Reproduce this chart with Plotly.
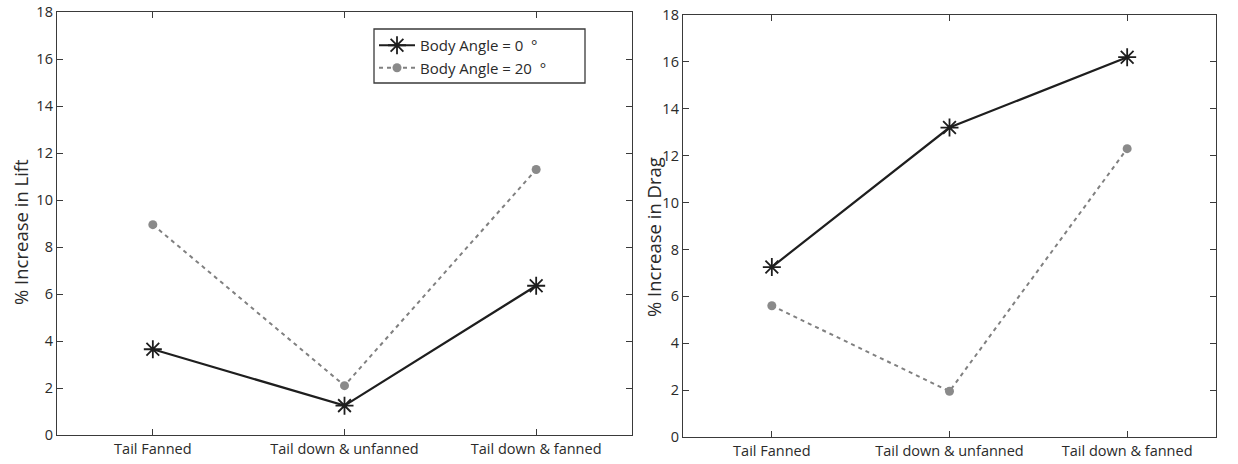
import plotly.graph_objects as go

# Data
categories = ["Tail Fanned", "Tail down & unfanned", "Tail down & fanned"]
lift_angle0 = [3.65, 1.25, 6.35]
lift_angle20 = [8.95, 2.1, 11.3]
drag_angle0 = [7.25, 13.2, 16.2]
drag_angle20 = [5.6, 1.95, 12.3]
y_ticks = [0, 2, 4, 6, 8, 10, 12, 14, 16, 18]

font_family = "Open Sans, Noto Sans, sans-serif"
dark = "#1e1e1e"
gray = "#808080"
axis_color = "#3a3a3a"
text_color = "#2a2a2a"

W, H = 1238, 464


def px_x(p):
    return p / W


def px_y(p):
    return 1 - p / H


fig = go.Figure()

x_idx = list(range(len(categories)))

star = dict(symbol="asterisk-open", size=15, line=dict(color=dark, width=1.8))
dot = dict(symbol="circle", size=9, color="#8a8a8a")

# Left panel: lift
fig.add_trace(go.Scatter(
    x=x_idx, y=lift_angle0, mode="lines+markers", name="Body Angle = 0\u00a0\u00a0°",
    line=dict(color=dark, width=2.2), marker=star, xaxis="x", yaxis="y"))
fig.add_trace(go.Scatter(
    x=x_idx, y=lift_angle20, mode="lines+markers", name="Body Angle = 20\u00a0\u00a0°",
    line=dict(color=gray, width=2, dash="4px,4px"), marker=dot, xaxis="x", yaxis="y"))

# Right panel: drag
fig.add_trace(go.Scatter(
    x=x_idx, y=drag_angle0, mode="lines+markers", showlegend=False,
    line=dict(color=dark, width=2.2), marker=star, xaxis="x2", yaxis="y2"))
fig.add_trace(go.Scatter(
    x=x_idx, y=drag_angle20, mode="lines+markers", showlegend=False,
    line=dict(color=gray, width=2, dash="4px,4px"), marker=dot, xaxis="x2", yaxis="y2"))

xaxis_style = dict(
    range=[-0.5, 2.5], tickmode="array", tickvals=x_idx, ticktext=categories,
    showline=True, linecolor=axis_color, linewidth=1.3, mirror="ticks",
    ticks="inside", ticklen=6, tickcolor=axis_color, showgrid=False, zeroline=False,
    automargin=False, ticklabeloverflow="allow",
    tickfont=dict(family=font_family, size=14.5, color=text_color),
)
yaxis_style = dict(
    range=[0, 18], tickmode="array", tickvals=y_ticks,
    showline=True, linecolor=axis_color, linewidth=1.3, mirror="ticks",
    ticks="inside", ticklen=6, tickcolor=axis_color, showgrid=False, zeroline=False,
    automargin=False, ticklabeloverflow="allow",
    tickfont=dict(family=font_family, size=14.5, color=text_color),
)

fig.update_layout(
    width=W, height=H,
    margin=dict(l=0, r=0, t=0, b=0, autoexpand=False),
    paper_bgcolor="white", plot_bgcolor="white",
    xaxis=dict(domain=[px_x(57), px_x(632)], anchor="y", **xaxis_style),
    yaxis=dict(domain=[px_y(435), px_y(12)], anchor="x", **yaxis_style),
    xaxis2=dict(domain=[px_x(683), px_x(1216)], anchor="y2", **xaxis_style),
    yaxis2=dict(domain=[px_y(437), px_y(15)], anchor="x2", **yaxis_style),
    legend=dict(
        x=px_x(374), y=px_y(29), xanchor="left", yanchor="top",
        borderwidth=0, bgcolor="rgba(0,0,0,0)", itemwidth=36,
        font=dict(family=font_family, size=15, color=text_color),
        tracegroupgap=0,
    ),
    # legend frame drawn as a box so it can be wider than the text
    shapes=[dict(type="rect", xref="paper", yref="paper",
                 x0=px_x(374), x1=px_x(585), y0=px_y(83), y1=px_y(29),
                 line=dict(color=axis_color, width=1.3), fillcolor="white",
                 layer="above")],
    annotations=[
        dict(text="% Increase in Lift", x=px_x(20), y=px_y(232), xref="paper", yref="paper",
             xanchor="center", yanchor="middle", textangle=-90, showarrow=False,
             font=dict(family=font_family, size=18.5, color=text_color)),
        dict(text="% Increase in Drag", x=px_x(653), y=px_y(237), xref="paper", yref="paper",
             xanchor="center", yanchor="middle", textangle=-90, showarrow=False,
             font=dict(family=font_family, size=18.5, color=text_color)),
    ],
)

# drop the default body margin so the figure sits at the page corner
fig.write_html("out.html", config={"displayModeBar": False},
               post_script="document.body.style.margin = '0';")
